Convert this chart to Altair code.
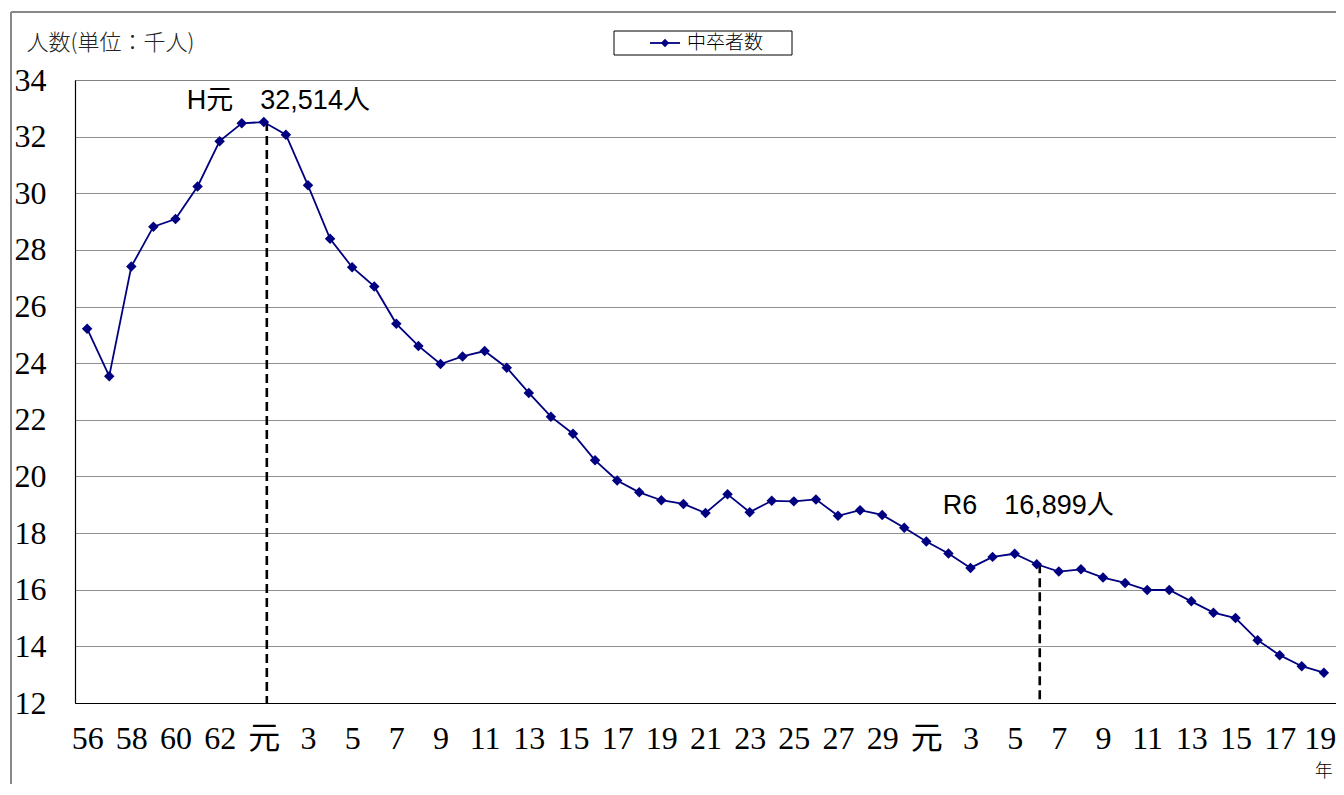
import altair as alt
import pandas as pd

# ---------------- data ----------------
categories = [
    "S56", "S57", "S58", "S59", "S60", "S61", "S62", "S63",
    "H1", "H2", "H3", "H4", "H5", "H6", "H7", "H8", "H9", "H10",
    "H11", "H12", "H13", "H14", "H15", "H16", "H17", "H18", "H19", "H20",
    "H21", "H22", "H23", "H24", "H25", "H26", "H27", "H28", "H29", "H30",
    "R1", "R2", "R3", "R4", "R5", "R6", "R7", "R8", "R9", "R10",
    "R11", "R12", "R13", "R14", "R15", "R16", "R17", "R18", "R19",
]
values = [
    25.22, 23.54, 27.41, 28.82, 29.09, 30.24, 31.84, 32.47,
    32.514, 32.07, 30.28, 28.39, 27.39, 26.71, 25.39, 24.61, 23.97, 24.24,
    24.43, 23.84, 22.95, 22.11, 21.51, 20.57, 19.86, 19.44, 19.16, 19.03,
    18.71, 19.37, 18.74, 19.14, 19.12, 19.19, 18.61, 18.81, 18.64, 18.19,
    17.70, 17.28, 16.77, 17.16, 17.27, 16.899, 16.64, 16.72, 16.43, 16.24,
    15.99, 15.99, 15.59, 15.19, 15.00, 14.22, 13.69, 13.30, 13.07,
]
tick_keys = [
    "S56", "S58", "S60", "S62", "H1", "H3", "H5", "H7", "H9", "H11", "H13",
    "H15", "H17", "H19", "H21", "H23", "H25", "H27", "H29", "R1", "R3", "R5",
    "R7", "R9", "R11", "R13", "R15", "R17", "R19",
]
tick_labels = [
    "56", "58", "60", "62", "元", "3", "5", "7", "9", "11", "13",
    "15", "17", "19", "21", "23", "25", "27", "29", "元", "3", "5",
    "7", "9", "11", "13", "15", "17", "19",
]
y_ticks = [12, 14, 16, 18, 20, 22, 24, 26, 28, 30, 32, 34]
series_name = "中卒者数"
marker_keys = ["H1", "R6"]
marker_values = [32.514, 16.899]
marker_labels = ["H元　32,514人", "R6　16,899人"]
y_title = "人数(単位：千人)"
year_unit = "年"

NAVY = "#000080"
SERIF = "Liberation Serif, Noto Sans CJK JP"
SANS = "Liberation Sans, Noto Sans CJK JP"
CJK = "Noto Sans CJK JP"

df = pd.DataFrame({"key": categories, "value": values,
                   "idx": list(range(len(categories))), "series": series_name})
mk = pd.DataFrame({"key": marker_keys, "value": marker_values, "label": marker_labels})
one = pd.DataFrame({"series": [series_name]})

def arr(lst):
    return "[" + ",".join("'" + s + "'" for s in lst) + "]"

label_expr = arr(tick_labels) + "[indexof(" + arr(tick_keys) + ", datum.value)]"

x_enc = alt.X(
    "key:N", sort=categories,
    scale=alt.Scale(type="point", padding=0.55),
    axis=alt.Axis(
        values=tick_keys, labelExpr=label_expr, title=None,
        labelFont=SERIF, labelFontSize=32, labelColor="#000",
        labelAlign="center", labelBaseline="top",
        labelOffset=alt.condition("datum.value == 'R19'", alt.value(-4), alt.value(0)),
        labelPadding=20, labelAngle=0, labelOverlap=False, labelFlush=False,
        ticks=False, tickSize=0, grid=False,
        domainColor="#000", domainWidth=1.2,
    ),
)
y_scale = alt.Scale(domain=[12, 34], nice=False, zero=False)
y_enc = alt.Y(
    "value:Q", scale=y_scale,
    axis=alt.Axis(
        values=y_ticks, title=y_title, titleAngle=0, titleAlign="left",
        titleBaseline="middle", titleX=-49, titleY=-38,
        titleFont=CJK, titleFontSize=22, titleFontWeight=300, titleColor="#222",
        labelFont=SERIF, labelFontSize=32, labelColor="#000",
        labelPadding=29, labelOverlap=False,
        ticks=False, tickSize=0,
        grid=True, gridColor="#222", gridDash=[1, 1], gridWidth=1,
        domainColor="#000", domainWidth=1.2,
    ),
)

base = alt.Chart(df)

line = base.mark_line(color=NAVY, strokeWidth=1.8).encode(
    x=x_enc, y=y_enc, order=alt.Order("idx:Q"))
pts = base.mark_point(shape="diamond", filled=True, color=NAVY, size=110, opacity=1).encode(
    x=alt.X("key:N", sort=categories), y=alt.Y("value:Q", scale=y_scale))

dash = alt.Chart(mk).mark_rule(color="#000", strokeWidth=2.6, strokeDash=[9, 5], xOffset=3).encode(
    x=alt.X("key:N", sort=categories),
    y=alt.Y("value:Q", scale=y_scale), y2=alt.datum(12))

ann1 = alt.Chart(mk[mk.key == "H1"]).mark_text(
    align="left", baseline="middle", font=SANS, fontSize=27, dx=-77, dy=-21, color="#000"
).encode(x=alt.X("key:N", sort=categories), y=alt.Y("value:Q", scale=y_scale), text="label:N")
ann2 = alt.Chart(mk[mk.key == "R6"]).mark_text(
    align="left", baseline="middle", font=SANS, fontSize=27, dx=-94, dy=-58, color="#000"
).encode(x=alt.X("key:N", sort=categories), y=alt.Y("value:Q", scale=y_scale), text="label:N")

# outer frame of the chart area
frame_left = alt.Chart(one).mark_rule(color="#888", strokeWidth=2).encode(
    x=alt.value(-64), y=alt.value(-68), y2=alt.value(720))
frame_top = alt.Chart(one).mark_rule(color="#888", strokeWidth=2).encode(
    x=alt.value(-64), x2=alt.value(1290), y=alt.value(-68))

# legend box
leg_box = alt.Chart(one).mark_rect(fill="white", stroke="#000", strokeWidth=1).encode(
    x=alt.value(539), x2=alt.value(717), y=alt.value(-49), y2=alt.value(-25))
leg_line = alt.Chart(one).mark_rule(color=NAVY, strokeWidth=1.8).encode(
    x=alt.value(575), x2=alt.value(605), y=alt.value(-37))
leg_pt = alt.Chart(one).mark_point(shape="diamond", filled=True, color=NAVY, size=70, opacity=1).encode(
    x=alt.value(590), y=alt.value(-37))
leg_txt = alt.Chart(one).mark_text(align="left", baseline="middle", font=CJK, fontSize=19,
                                   fontWeight=300, color="#000").encode(
    x=alt.value(612), y=alt.value(-37), text="series:N")

nen = alt.Chart(pd.DataFrame({"key": ["R19"], "t": [year_unit]})).mark_text(
    align="center", baseline="middle", font=CJK, fontSize=18, fontWeight=300, color="#000"
).encode(x=alt.X("key:N", sort=categories), y=alt.value(692), text="t:N")

chart = alt.layer(
    frame_left, frame_top, dash, line, pts, ann1, ann2,
    leg_box, leg_line, leg_pt, leg_txt, nen,
).properties(
    width=1261, height=623,
    autosize=alt.AutoSizeParams(type="none"),
    padding={"left": 67, "top": 72, "right": 0, "bottom": 81},
).configure_view(stroke=None).configure(background="white")

chart.save("out.html", embed_options={"renderer": "svg", "actions": False})
